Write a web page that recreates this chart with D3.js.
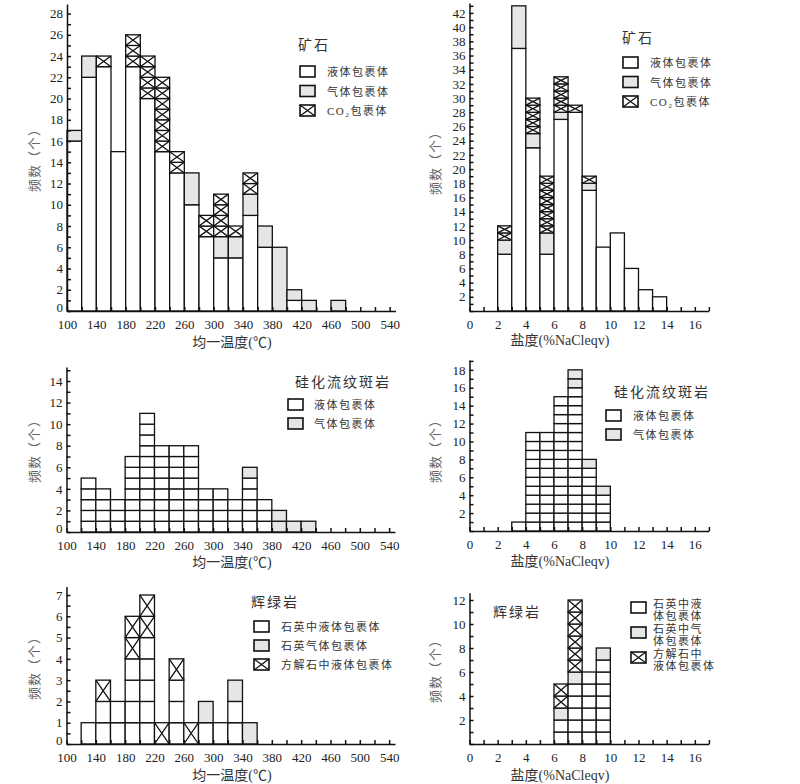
<!DOCTYPE html>
<html>
<head>
<meta charset="utf-8">
<script src="https://cdn.jsdelivr.net/npm/d3@7"></script>
<style>
  body { margin: 0; background: #fff; }
  svg { display: block; }
  .tick text { font-family: "Liberation Serif", "Times New Roman", serif; font-size: 13px; fill: #222; }
  .axis path, .axis line { stroke: #111; stroke-width: 1.5; }
  .ytitle { font-family: "Noto Sans CJK SC", sans-serif; font-size: 13px; fill: #666; letter-spacing: 1px; }
  .xtitle { font-family: "Liberation Serif", "Noto Sans CJK SC", serif; font-size: 14px; fill: #333; }
  .ltitle { font-family: "Noto Sans CJK SC", sans-serif; font-size: 14px; fill: #333; letter-spacing: 2px; }
  .ltext { font-family: "Liberation Serif", "Noto Sans CJK SC", serif; font-size: 11px; fill: #333; letter-spacing: 1.5px; }
</style>
</head>
<body>
<div id="container"></div>
<script>
// ---- data ----
// ore, homogenization temperature (bins of 20 from 100)
const oreTempBins = [100, 120, 140, 160, 180, 200, 220, 240, 260, 280, 300, 320, 340, 360, 380, 400, 420, 440, 460];
const oreTempLiquid = [16, 22, 23, 15, 23, 20, 15, 13, 10, 7, 5, 5, 9, 6, 0, 1, 0, 0, 0];
const oreTempGas = [1, 2, 0, 0, 0, 0, 0, 0, 3, 0, 2, 2, 2, 2, 6, 1, 1, 0, 1];
const oreTempCO2 = [0, 0, 1, 0, 3, 4, 7, 2, 0, 2, 4, 1, 2, 0, 0, 0, 0, 0, 0];

// ore, salinity (bins of 1)
const oreSalBins = [2, 3, 4, 5, 6, 7, 8, 9, 10, 11, 12, 13];
const oreSalLiquid = [8, 37, 23, 8, 27, 28, 17, 9, 11, 6, 3, 2];
const oreSalGas = [2, 6, 2, 3, 1, 0, 1, 0, 0, 0, 0, 0];
const oreSalCO2 = [2, 0, 5, 8, 5, 1, 1, 0, 0, 0, 0, 0];

// silicified rhyolite porphyry
const rhyTempBins = [120, 140, 160, 180, 200, 220, 240, 260, 280, 300, 320, 340, 360, 380, 400, 420];
const rhyTempLiquid = [5, 4, 3, 7, 11, 8, 8, 8, 4, 4, 3, 5, 3, 0, 0, 0];
const rhyTempGas = [0, 0, 0, 0, 0, 0, 0, 0, 0, 0, 0, 1, 0, 2, 1, 1];

const rhySalBins = [3, 4, 5, 6, 7, 8, 9];
const rhySalLiquid = [1, 11, 11, 15, 16, 7, 4];
const rhySalGas = [0, 0, 0, 0, 2, 1, 1];

// diabase
const diaTempBins = [120, 140, 160, 180, 200, 220, 240, 260, 280, 300, 320, 340];
const diaTempLiquid = [1, 2, 2, 4, 5, 0, 3, 0, 1, 1, 2, 0];
const diaTempGas = [0, 0, 0, 0, 0, 0, 0, 0, 1, 0, 1, 1];
const diaTempCalcite = [0, 1, 0, 2, 2, 1, 1, 1, 0, 0, 0, 0];

const diaSalBins = [6, 7, 8, 9];
const diaSalLiquid = [2, 5, 6, 7];
const diaSalGas = [1, 1, 0, 1];
const diaSalCalcite = [2, 6, 0, 0];

// tick labels
const tempTickLabels = [100, 140, 180, 220, 260, 300, 340, 380, 420, 460, 500, 540];
const salTickLabels = [0, 2, 4, 6, 8, 10, 12, 14, 16];
const oreTempYLabels = d3.range(0, 29, 2);
const oreSalYLabels = d3.range(2, 43, 2);
const rhyTempYLabels = d3.range(0, 15, 2);
const rhySalYLabels = d3.range(2, 19, 2);
const diaTempYLabels = d3.range(0, 8, 1);
const diaSalYLabels = d3.range(2, 13, 2);

// ---- drawing ----
const svg = d3.select('#container').append('svg')
    .attr('width', 800)
    .attr('height', 784);

const GAS = '#e6e6e6';

function drawPanel(p) {
    const x = d3.scaleLinear().domain(p.xDomain).range(p.xRange);
    const y = d3.scaleLinear().domain(p.yDomain).range(p.yRange);
    const g = svg.append('g');

    // bars
    const bars = g.append('g')
        .attr('stroke', '#111')
        .attr('stroke-width', 1.3);

    p.bins.forEach((b, i) => {
        const x0 = x(b), x1 = x(b + p.binWidth);
        let base = 0;
        p.series.forEach(s => {
            const n = s.values[i];
            if (!n) return;
            const fill = s.type === 'gas' ? GAS : '#fff';
            if (s.type !== 'cross' && !p.cells) {
                bars.append('rect')
                    .attr('x', x0).attr('y', y(base + n))
                    .attr('width', x1 - x0).attr('height', y(base) - y(base + n))
                    .attr('fill', fill);
            } else {
                for (let k = 0; k < n; k++) {
                    const ya = y(base + k), yb = y(base + k + 1);
                    bars.append('rect')
                        .attr('x', x0).attr('y', yb)
                        .attr('width', x1 - x0).attr('height', ya - yb)
                        .attr('fill', fill);
                    if (s.type === 'cross') {
                        bars.append('path')
                            .attr('fill', 'none')
                            .attr('d', `M${x0},${yb}L${x1},${ya}M${x0},${ya}L${x1},${yb}`);
                    }
                }
            }
            base += n;
        });
    });

    // axes
    const xTicks = d3.range(p.xDomain[0], p.xDomain[1] + 1e-6, p.xMinor);
    g.append('g')
        .attr('class', 'axis')
        .attr('transform', `translate(0, ${p.yRange[0]})`)
        .call(d3.axisBottom(x)
            .tickValues(xTicks)
            .tickSizeInner(-4)
            .tickSizeOuter(0)
            .tickPadding(9)
            .tickFormat(d => p.xLabels.includes(Math.round(d)) ? Math.round(d) : ''));

    const yTicks = d3.range(0, p.yDomain[1], p.yMinor);
    const yAxis = g.append('g')
        .attr('class', 'axis')
        .attr('transform', `translate(${p.xRange[0]}, 0)`)
        .call(d3.axisLeft(y)
            .tickValues(yTicks)
            .tickSizeInner(-4)
            .tickSizeOuter(0)
            .tickPadding(4)
            .tickFormat(d => p.yLabels.includes(d) ? d : ''));
    // lift the zero label a little so it clears the first x label
    yAxis.selectAll('.tick')
        .filter(d => d === 0)
        .select('text')
        .attr('dy', '0.05em');

    // axis titles
    g.append('text')
        .attr('class', 'xtitle')
        .attr('x', p.xTitlePos[0])
        .attr('y', p.xTitlePos[1])
        .attr('text-anchor', 'middle')
        .text(p.xTitle);

    g.append('text')
        .attr('class', 'ytitle')
        .attr('transform', `translate(${p.yTitlePos[0]}, ${p.yTitlePos[1]}) rotate(-90)`)
        .attr('text-anchor', 'middle')
        .attr('dominant-baseline', 'middle')
        .text('频数（个）');

    // legend
    g.append('text')
        .attr('class', 'ltitle')
        .attr('x', p.titlePos[0])
        .attr('y', p.titlePos[1])
        .text(p.title);

    p.legend.forEach((item, i) => {
        const ly = p.legendPos[1] + i * p.legendStep;
        const lx = p.legendPos[0];
        g.append('rect')
            .attr('x', lx).attr('y', ly)
            .attr('width', 15).attr('height', 11)
            .attr('fill', item.type === 'gas' ? GAS : '#fff')
            .attr('stroke', '#111')
            .attr('stroke-width', 1.6);
        if (item.type === 'cross') {
            g.append('path')
                .attr('fill', 'none')
                .attr('stroke', '#111')
                .attr('stroke-width', 1.3)
                .attr('d', `M${lx},${ly}L${lx + 15},${ly + 11}M${lx},${ly + 11}L${lx + 15},${ly}`);
        }
        const t = g.append('text')
            .attr('class', 'ltext')
            .attr('x', lx + p.legendTextDx)
            .attr('y', ly + 10);
        item.label.forEach((line, j) => {
            t.append('tspan')
                .attr('x', lx + p.legendTextDx)
                .attr('dy', j === 0 ? (item.label.length > 1 ? -4 : 0) : 12)
                .text(line);
        });
    });
}

const tempTitle = '均一温度(℃)';
const salTitle = '盐度(%NaCleqv)';

drawPanel({
    bins: oreTempBins, binWidth: 20, cells: false,
    series: [
        { type: 'liquid', values: oreTempLiquid },
        { type: 'gas', values: oreTempGas },
        { type: 'cross', values: oreTempCO2 }
    ],
    xDomain: [100, 548], xRange: [67, 395.5], xMinor: 20, xLabels: tempTickLabels,
    yDomain: [0, 28.9], yRange: [311, 4], yMinor: 1, yLabels: oreTempYLabels,
    xTitle: tempTitle, xTitlePos: [232, 347], yTitlePos: [35, 157],
    title: '矿石', titlePos: [298, 50],
    legend: [
        { type: 'liquid', label: ['液体包裹体'] },
        { type: 'gas', label: ['气体包裹体'] },
        { type: 'cross', label: ['CO₂包裹体'] }
    ],
    legendPos: [300, 66], legendStep: 19.5, legendTextDx: 27
});

drawPanel({
    bins: oreSalBins, binWidth: 1, cells: false,
    series: [
        { type: 'liquid', values: oreSalLiquid },
        { type: 'gas', values: oreSalGas },
        { type: 'cross', values: oreSalCO2 }
    ],
    xDomain: [0, 17], xRange: [469.5, 708.9], xMinor: 1, xLabels: salTickLabels,
    yDomain: [0, 43.4], yRange: [311, 3], yMinor: 1, yLabels: oreSalYLabels,
    xTitle: salTitle, xTitlePos: [560, 345], yTitlePos: [436, 160],
    title: '矿石', titlePos: [622, 43],
    legend: [
        { type: 'liquid', label: ['液体包裹体'] },
        { type: 'gas', label: ['气体包裹体'] },
        { type: 'cross', label: ['CO₂包裹体'] }
    ],
    legendPos: [623, 57], legendStep: 19.5, legendTextDx: 27
});

drawPanel({
    bins: rhyTempBins, binWidth: 20, cells: true,
    series: [
        { type: 'liquid', values: rhyTempLiquid },
        { type: 'gas', values: rhyTempGas }
    ],
    xDomain: [100, 548], xRange: [66.5, 395], xMinor: 20, xLabels: tempTickLabels,
    yDomain: [0, 15.3], yRange: [532, 367], yMinor: 1, yLabels: rhyTempYLabels,
    xTitle: tempTitle, xTitlePos: [232, 567], yTitlePos: [35, 448],
    title: '硅化流纹斑岩', titlePos: [295, 387],
    legend: [
        { type: 'liquid', label: ['液体包裹体'] },
        { type: 'gas', label: ['气体包裹体'] }
    ],
    legendPos: [288, 399], legendStep: 19, legendTextDx: 26
});

drawPanel({
    bins: rhySalBins, binWidth: 1, cells: true,
    series: [
        { type: 'liquid', values: rhySalLiquid },
        { type: 'gas', values: rhySalGas }
    ],
    xDomain: [0, 17], xRange: [469.5, 708.9], xMinor: 1, xLabels: salTickLabels,
    yDomain: [0, 19.1], yRange: [531, 360], yMinor: 1, yLabels: rhySalYLabels,
    xTitle: salTitle, xTitlePos: [560, 566], yTitlePos: [436, 448],
    title: '硅化流纹斑岩', titlePos: [614, 397],
    legend: [
        { type: 'liquid', label: ['液体包裹体'] },
        { type: 'gas', label: ['气体包裹体'] }
    ],
    legendPos: [606, 410], legendStep: 19, legendTextDx: 27
});

drawPanel({
    bins: diaTempBins, binWidth: 20, cells: true,
    series: [
        { type: 'liquid', values: diaTempLiquid },
        { type: 'gas', values: diaTempGas },
        { type: 'cross', values: diaTempCalcite }
    ],
    xDomain: [100, 548], xRange: [66.5, 395], xMinor: 20, xLabels: tempTickLabels,
    yDomain: [0, 7.4], yRange: [744, 586.5], yMinor: 0.5, yLabels: diaTempYLabels,
    xTitle: tempTitle, xTitlePos: [232, 780], yTitlePos: [35, 665],
    title: '辉绿岩', titlePos: [251, 607],
    legend: [
        { type: 'liquid', label: ['石英中液体包裹体'] },
        { type: 'gas', label: ['石英气体包裹体'] },
        { type: 'cross', label: ['方解石中液体包裹体'] }
    ],
    legendPos: [254, 621], legendStep: 19, legendTextDx: 27
});

drawPanel({
    bins: diaSalBins, binWidth: 1, cells: true,
    series: [
        { type: 'liquid', values: diaSalLiquid },
        { type: 'gas', values: diaSalGas },
        { type: 'cross', values: diaSalCalcite }
    ],
    xDomain: [0, 17], xRange: [469.5, 708.9], xMinor: 1, xLabels: salTickLabels,
    yDomain: [0, 12.6], yRange: [744, 592.8], yMinor: 1, yLabels: diaSalYLabels,
    xTitle: salTitle, xTitlePos: [560, 780], yTitlePos: [436, 668],
    title: '辉绿岩', titlePos: [493, 617],
    legend: [
        { type: 'liquid', label: ['石英中液', '体包裹体'] },
        { type: 'gas', label: ['石英中气', '体包裹体'] },
        { type: 'cross', label: ['方解石中', '液体包裹体'] }
    ],
    legendPos: [631, 602], legendStep: 25, legendTextDx: 22
});
</script>
</body>
</html>
